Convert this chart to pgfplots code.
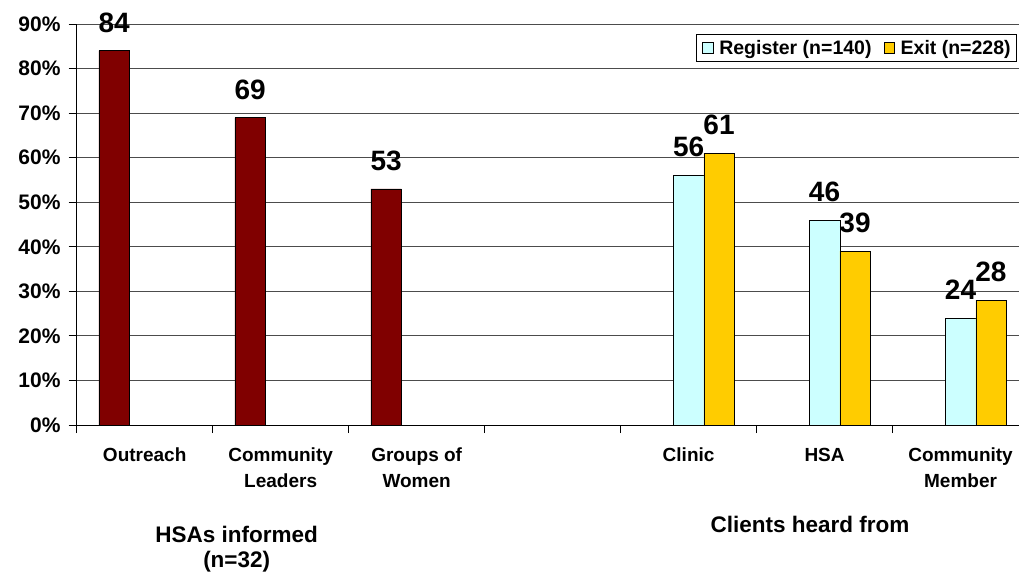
\documentclass[border=0pt]{standalone}
\usepackage{fontspec}
\setmainfont{Liberation Sans}
\usepackage{pgfplots}
\pgfplotsset{compat=1.18}
\definecolor{darkred}{HTML}{800000}
\definecolor{regcol}{HTML}{CCFFFF}
\definecolor{exitcol}{HTML}{FFCC00}
\begin{document}
\begin{tikzpicture}
\useasboundingbox (-76.7bp,-150bp) rectangle (942.3bp,425bp);
\begin{axis}[
  at={(0,0)}, anchor=south west,
  scale only axis, width=942.3bp, height=401bp,
  xmin=-0.5, xmax=6.43, ymin=0, ymax=90,
  axis lines*=left,
  axis line style={black, line width=0.8bp},
  clip=false,
  ytick={0,10,...,90},
  yticklabel={\pgfmathprintnumber{\tick}\%},
  /pgf/number format/assume math mode=true,
  yticklabel style={font=\fontsize{21bp}{24bp}\selectfont\bfseries, inner sep=0pt, xshift=-8bp},
  ymajorgrids, grid style={black!70, line width=0.8bp},
  xtick={0,...,6},
  xticklabels={Outreach, {Community\\Leaders}, {Groups of\\Women}, {}, Clinic, HSA, {Community\\Member}},
  xticklabel style={font=\fontsize{19bp}{26bp}\selectfont\bfseries, align=center, anchor=north, inner sep=0pt, yshift=-15bp},
  major x tick style={draw=none},
  minor xtick={-0.5,0.5,...,5.5},
  minor x tick style={draw=black, line width=0.8bp},
  ytick style={draw=black, line width=0.8bp},
  tick align=outside,
  major tick length=8bp, minor tick length=8bp,
  bar width=0.224,
  nodes near coords,
  every node near coord/.append style={font=\fontsize{28bp}{30bp}\selectfont\bfseries, anchor=south, inner sep=0pt, yshift=18bp},
  legend style={at={(0.657,0.975)}, anchor=north west, draw=black, line width=0.8bp,
    font=\fontsize{19.5bp}{22bp}\selectfont\bfseries, inner xsep=6bp, inner ysep=5.5bp,
    nodes={inner sep=0pt, text depth=0.2em},
    /tikz/every odd column/.append style={column sep=6bp},
    /tikz/every even column/.append style={column sep=12bp}},
  legend columns=2,
]
\addplot[ybar, bar shift=0pt, fill=regcol, draw=black, line width=0.5bp,
  legend image code/.code={\draw[fill=regcol, draw=black, line width=0.5bp] (0bp,-5.3bp) rectangle (10.6bp,5.3bp);}]
  coordinates {(4,56) (5,46) (6,24)};
\addlegendentry{Register (n=140)}
\addplot[ybar, bar shift=0.224, fill=exitcol, draw=black, line width=0.5bp,
  every node near coord/.append style={xshift=30.46bp},
  legend image code/.code={\draw[fill=exitcol, draw=black, line width=0.5bp] (0bp,-5.3bp) rectangle (10.6bp,5.3bp);}]
  coordinates {(4,61) (5,39) (6,28)};
\addlegendentry{Exit (n=228)}
\addplot[ybar, bar shift=-0.224, fill=darkred, draw=black, line width=0.5bp, forget plot,
  every node near coord/.append style={xshift=-30.46bp}]
  coordinates {(0,84) (1,69) (2,53)};
\end{axis}
\node[font=\fontsize{22.5bp}{25bp}\selectfont\bfseries, align=center, anchor=north, inner sep=0pt] at (160bp,-101bp) {HSAs informed\\(n=32)};
\node[font=\fontsize{22.5bp}{25bp}\selectfont\bfseries, align=center, anchor=north, inner sep=0pt] at (733.3bp,-91bp) {Clients heard from};
\end{tikzpicture}
\end{document}
